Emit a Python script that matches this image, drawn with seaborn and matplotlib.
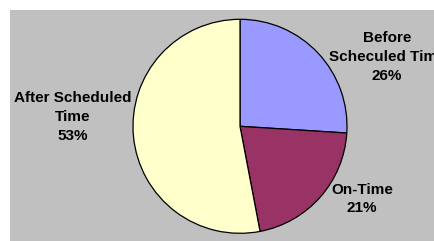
import matplotlib
matplotlib.use("Agg")
import matplotlib.pyplot as plt
import seaborn as sns

# data
categories = ["Before\nScheculed Time", "On-Time", "After Scheduled\nTime"]
shares = [26, 21, 53]
colors = ["#9999FF", "#993366", "#FFFFCC"]

# label centres in axes units (1 unit = 1 px, y up)
label_pos = [(377, 184), (352, 42), (63, 124)]

sns.set_theme(style="white")
plt.rcParams["font.family"] = ["Liberation Sans", "DejaVu Sans"]

fig = plt.figure(figsize=(4.35, 2.41), dpi=100)
fig.patch.set_facecolor("white")
ax = fig.add_axes([10 / 435, 0, 425 / 435, 231 / 241])
ax.set_facecolor("#C0C0C0")

ax.pie(
    shares,
    colors=sns.color_palette(colors),
    startangle=90,
    counterclock=False,
    center=(230, 114.7),
    radius=107,
    wedgeprops={"edgecolor": "black", "linewidth": 0.9},
    frame=True,
)
ax.set_xlim(0, 425)
ax.set_ylim(0, 231)
ax.set_aspect("auto")
ax.set_xticks([])
ax.set_yticks([])
for s in ax.spines.values():
    s.set_visible(False)

for (x, y), cat, val in zip(label_pos, categories, shares):
    ax.text(x, y, f"{cat}\n{val}%", ha="center", va="center",
            fontsize=11, fontweight="bold", color="black", linespacing=1.43,
            clip_on=True)

fig.savefig("out.png", dpi=100, facecolor="white")
